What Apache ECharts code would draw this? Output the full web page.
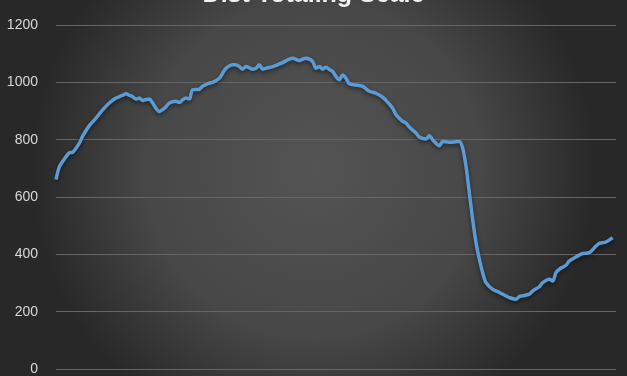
<!DOCTYPE html>
<html>
<head>
<meta charset="utf-8">
<script src="https://cdn.jsdelivr.net/npm/echarts@6/dist/echarts.min.js"></script>
<style>html,body{margin:0;padding:0;background:#333;}#c{width:627px;height:376px;}</style>
</head>
<body>
<div id="c"></div>
<script>
const titleText = "Dist Totaling Scale";
const yTicks = [0, 200, 400, 600, 800, 1000, 1200];
const days = [0,1,2,4,5,7,8,10,12,14,16,18,19,20,21,22,23,24,25,26,27,28,29,31,32,33,34,36,37,38,39,40,41,43,44,46,47,49,50,51,53,54,55,56,57,59,60,61,62,63,65,67,68,70,71,73,74,75,77,78,79,80,81,82,83,84,85,86,87,88,90,92,94,96,98,99,101,102,104,105,106,108,109,111,112,113,115,116,118,120,121,122,123,124,125,126,127,128,129,131,133,135,136,138,139,140,142,143,145,146,148,149,150,151,153,154,156,158,160,162,163,165,167];
const values = [661,705,724,754,756,788,812,849,875,904,928,945,950,955,960,955,950,942,945,937,940,942,928,898,905,915,928,934,930,939,945,942,974,976,986,997,1000,1014,1032,1049,1061,1061,1055,1046,1055,1046,1049,1061,1046,1049,1055,1064,1069,1081,1084,1076,1081,1084,1073,1049,1055,1046,1053,1045,1038,1020,1009,1026,1014,995,991,986,969,962,948,937,910,887,864,858,844,823,809,802,814,800,779,794,791,793,794,771,707,614,522,441,383,336,301,278,267,255,249,243,253,255,261,272,287,301,313,307,336,348,362,377,391,403,406,429,438,443,458];

const data = days.map((d, i) => [d, values[i]]);
const chart = echarts.init(document.getElementById('c'), null, {renderer: 'canvas'});
chart.setOption({
  animation: false,
  backgroundColor: {
    type: 'radial', x: 0.5, y: 0.45, r: 0.75,
    colorStops: [{offset: 0, color: '#545454'}, {offset: 0.6, color: '#474747'}, {offset: 1, color: '#282828'}]
  },
  title: {
    text: titleText, left: 'center', top: -22,
    textStyle: {color: '#f2f2f2', fontSize: 25, fontWeight: 'bold', fontFamily: 'Liberation Sans'}
  },
  grid: {left: 56, right: 11, top: 25, bottom: 6, containLabel: false},
  xAxis: {
    type: 'value', min: 0, max: 168,
    axisLine: {show: false}, axisTick: {show: false}, axisLabel: {show: false}, splitLine: {show: false}
  },
  yAxis: {
    type: 'value', min: yTicks[0], max: yTicks[yTicks.length - 1], interval: 200,
    axisLine: {show: false}, axisTick: {show: false},
    axisLabel: {color: '#d9d9d9', fontSize: 14, margin: 18, fontFamily: 'Liberation Sans', formatter: v => String(v)},
    splitLine: {lineStyle: {color: '#666666', width: 1}}
  },
  series: [{
    type: 'line', data: data, showSymbol: false, smooth: 0.3,
    lineStyle: {color: '#5b9bd5', width: 3.5, shadowColor: 'rgba(0,0,0,0.5)', shadowBlur: 4, shadowOffsetY: 2},
    itemStyle: {color: '#5b9bd5'}
  }]
});
</script>
</body>
</html>
